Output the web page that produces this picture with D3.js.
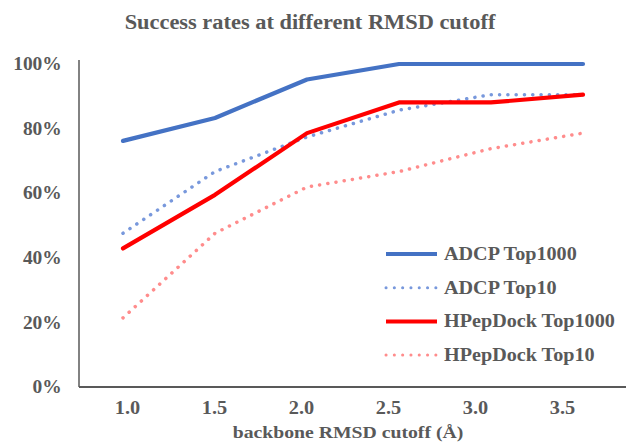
<!DOCTYPE html>
<html><head><meta charset="utf-8">
<script src="https://cdn.jsdelivr.net/npm/d3@7"></script>
<style>body{margin:0;background:#fff}svg{display:block}</style>
</head><body>
<script>
const categories = ["1.0","1.5","2.0","2.5","3.0","3.5"];
const adcpTop1000 = [76.2, 83.3, 95.2, 100, 100, 100];
const adcpTop10 = [47.6, 66.7, 77.4, 85.7, 90.5, 90.5];
const hpepTop1000 = [42.9, 59.5, 78.6, 88.1, 88.1, 90.5];
const hpepTop10 = [21.4, 47.6, 61.9, 66.7, 73.8, 78.6];
const yTicks = [0, 20, 40, 60, 80, 100];
const seriesNames = ["ADCP Top1000","ADCP Top10","HPepDock Top1000","HPepDock Top10"];

const series = [
  {name: seriesNames[0], values: adcpTop1000, color: "#4472C4", dotted: false},
  {name: seriesNames[1], values: adcpTop10, color: "#7898DC", dotted: true},
  {name: seriesNames[2], values: hpepTop1000, color: "#FF0000", dotted: false},
  {name: seriesNames[3], values: hpepTop10, color: "#FF8C8C", dotted: true}
];

const W = 626, H = 446;
const svg = d3.select("body").append("svg").attr("width", W).attr("height", H);
const font = "'Liberation Serif','Times New Roman',serif";
const grey = "#595959";

const y = d3.scaleLinear().domain([0, 100]).range([387, 64]);
const xLine = d3.scalePoint().domain(categories).range([123, 583]);
const xAxisScale = d3.scalePoint().domain(categories).range([127, 562]);

// title
svg.append("text").attr("transform", "translate(310,29) scale(1.12,1)").attr("text-anchor", "middle")
  .attr("font-family", font).attr("font-weight", "bold").attr("font-size", 20)
  .attr("fill", grey).text("Success rates at different RMSD cutoff");

// y axis
const yAxis = svg.append("g").attr("transform", "translate(79,0)")
  .call(d3.axisLeft(y).tickValues(yTicks).tickFormat(d => d + "%").tickSize(0).tickPadding(16));
yAxis.select(".domain").attr("stroke", grey).attr("stroke-width", 1.5).attr("d", "M0,60V387");
yAxis.selectAll("text").attr("font-family", font).attr("font-weight", "bold")
  .attr("font-size", 18).attr("fill", grey).attr("transform", "scale(1.08,1)");

// x axis
const xAxis = svg.append("g").attr("transform", "translate(0,387)")
  .call(d3.axisBottom(xAxisScale).tickSize(0).tickPadding(14));
xAxis.select(".domain").attr("stroke", grey).attr("stroke-width", 1.8).attr("d", "M79,0H626");
xAxis.selectAll("text").attr("font-family", font).attr("font-weight", "bold")
  .attr("font-size", 18).attr("fill", grey).attr("transform", "scale(1.13,1)");

svg.append("text").attr("transform", "translate(348,438) scale(1.16,1)").attr("text-anchor", "middle")
  .attr("font-family", font).attr("font-weight", "bold").attr("font-size", 17)
  .attr("fill", grey).text("backbone RMSD cutoff (Å)");

// lines
const line = d3.line().x((d, i) => xLine(categories[i])).y(d => y(d));
const drawOrder = [3, 1, 2, 0];
drawOrder.forEach(k => {
  const s = series[k];
  svg.append("path").datum(s.values).attr("d", line).attr("fill", "none")
    .attr("stroke", s.color)
    .attr("stroke-width", s.dotted ? 3.5 : 4.2)
    .attr("stroke-linecap", "round").attr("stroke-linejoin", "round")
    .attr("stroke-dasharray", s.dotted ? "0.1 8.2" : null);
});

// legend
const leg = svg.append("g");
series.forEach((s, i) => {
  const ly = 254 + i * 33.7;
  leg.append("line").attr("x1", 386).attr("x2", 437).attr("y1", ly).attr("y2", ly)
    .attr("stroke", s.color).attr("stroke-width", s.dotted ? 3 : 4)
    .attr("stroke-linecap", s.dotted ? "round" : "butt")
    .attr("stroke-dasharray", s.dotted ? "0.1 8.2" : null);
  leg.append("text").attr("transform", `translate(444,${ly + 6}) scale(1.12,1)`).attr("font-family", font)
    .attr("font-weight", "bold").attr("font-size", 18).attr("fill", grey).text(s.name);
});
</script>
</body></html>
